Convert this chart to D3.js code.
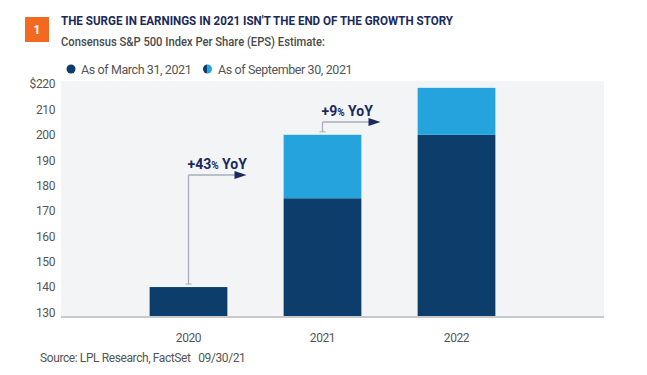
<!DOCTYPE html>
<html><head><meta charset="utf-8">
<script src="https://cdn.jsdelivr.net/npm/d3@7"></script>
<style>body{margin:0;background:#fff}svg{display:block}text{font-family:Roboto,"Noto Sans",sans-serif}</style>
</head><body>
<script>
const categories = ["2020","2021","2022"];
const marchEst = [140, 175, 200];
const septEst = [140, 200, 218.5];
const yTicks = [130,140,150,160,170,180,190,200,210,220];
const seriesNames = ["As of March 31, 2021","As of September 30, 2021"];
const annotations = [{from:"2020", label:"+43", top:175},{from:"2021", label:"+9", top:122}];

const W=647,H=375;
const navy="#0c3d6b", light="#25a3dc", bg="#f3f4f6", ink="#1b2a5c", grey="#555";
const svg=d3.select("body").append("svg").attr("width",W).attr("height",H);

// header
svg.append("rect").attr("x",25).attr("y",17).attr("width",24).attr("height",25).attr("fill","#f26a21");
svg.append("text").attr("x",37).attr("y",34).attr("text-anchor","middle").attr("fill","#fff")
  .attr("font-size",12).attr("font-weight",700).text("1");
svg.append("text").attr("x",61).attr("y",25).attr("fill",ink).attr("font-size",13.5).attr("font-weight",700)
  .attr("textLength",392).attr("lengthAdjust","spacingAndGlyphs")
  .text("THE SURGE IN EARNINGS IN 2021 ISN'T THE END OF THE GROWTH STORY");
svg.append("text").attr("x",61).attr("y",46).attr("fill","#4a4a4a").attr("font-size",12.5).attr("font-weight",500)
  .attr("textLength",264).attr("lengthAdjust","spacingAndGlyphs")
  .text("Consensus S&P 500 Index Per Share (EPS) Estimate:");

// scales
const x0=61,x1=604;
const y=d3.scaleLinear().domain([128.4,221.2]).range([316.5,81]);
const x=d3.scaleBand().domain(categories).range([121.5,523.5]).paddingInner(0.42).paddingOuter(0.21);

svg.append("rect").attr("x",x0).attr("y",y(221.2)).attr("width",x1-x0).attr("height",y(128.4)-y(221.2)).attr("fill",bg);

// y axis
const ya=svg.append("g").attr("transform","translate(55,0)")
  .call(d3.axisLeft(y).tickValues(yTicks).tickSize(0).tickPadding(0).tickFormat(d=>d===220?"$220":d));
ya.select(".domain").remove();
ya.selectAll("text").attr("font-size",12).attr("fill",grey).attr("font-family","Roboto,sans-serif")
  .attr("letter-spacing","-0.4px");

// bars
const base=y.domain()[0];
categories.forEach((c,i)=>{
  svg.append("rect").attr("x",x(c)).attr("width",x.bandwidth()).attr("y",y(marchEst[i]))
    .attr("height",y(base)-y(marchEst[i])).attr("fill",navy);
  if(septEst[i]>marchEst[i]){
    svg.append("rect").attr("x",x(c)).attr("width",x.bandwidth()).attr("y",y(septEst[i]))
      .attr("height",y(marchEst[i])-y(septEst[i])).attr("fill",light);
  }
});

// x axis
svg.append("line").attr("x1",x0).attr("x2",x1).attr("y1",317).attr("y2",317).attr("stroke","#c8c8c8").attr("stroke-width",2);
const xa=svg.append("g").attr("transform","translate(0,317)")
  .call(d3.axisBottom(x).tickSize(0).tickPadding(16));
xa.select(".domain").remove();
xa.selectAll("text").attr("font-size",12).attr("fill",grey).attr("font-family","Roboto,sans-serif").attr("letter-spacing","-0.4px");

// annotations
annotations.forEach(a=>{
  const i=categories.indexOf(a.from);
  const cx=x(a.from)+x.bandwidth()/2;
  const barTop=y(septEst[i])-3;
  const g=svg.append("g");
  g.append("line").attr("x1",cx).attr("x2",cx).attr("y1",barTop).attr("y2",a.top).attr("stroke","#a9adbd").attr("stroke-width",1.3);
  g.append("line").attr("x1",cx-3).attr("x2",cx+3).attr("y1",barTop).attr("y2",barTop).attr("stroke","#a9adbd").attr("stroke-width",1);
  g.append("line").attr("x1",cx).attr("x2",cx+48).attr("y1",a.top).attr("y2",a.top).attr("stroke","#a9adbd").attr("stroke-width",1.3);
  g.append("path").attr("d",`M${cx+46},${a.top-4} L${cx+58},${a.top} L${cx+46},${a.top+4}Z`).attr("fill",ink);
  const t=g.append("text").attr("x",cx-1).attr("y",a.top-6).attr("fill",ink).attr("font-weight",700).attr("font-size",14);
  t.append("tspan").text(a.label);
  t.append("tspan").attr("font-size",10).text("%");
  t.append("tspan").text(" YoY");
});

// legend
const lg=svg.append("g");
lg.append("circle").attr("cx",71).attr("cy",69).attr("r",4.5).attr("fill",navy);
lg.append("text").attr("x",81).attr("y",73.5).attr("font-size",12.5).attr("fill",grey).attr("letter-spacing","-0.4px").text(seriesNames[0]);
const c2=207.5;
lg.append("path").attr("d",`M${c2},${69-4.5} A4.5,4.5 0 0 0 ${c2},${69+4.5}Z`).attr("fill",navy);
lg.append("path").attr("d",`M${c2},${69-4.5} A4.5,4.5 0 0 1 ${c2},${69+4.5}Z`).attr("fill",light);
lg.append("text").attr("x",218).attr("y",73.5).attr("font-size",12.5).attr("fill",grey).attr("letter-spacing","-0.4px").text(seriesNames[1]);

// source
svg.append("text").attr("x",40).attr("y",362).attr("font-size",12).attr("fill",grey).attr("letter-spacing","-0.4px")
  .attr("xml:space","preserve").text("Source: LPL Research, FactSet   09/30/21");
</script>
</body></html>
